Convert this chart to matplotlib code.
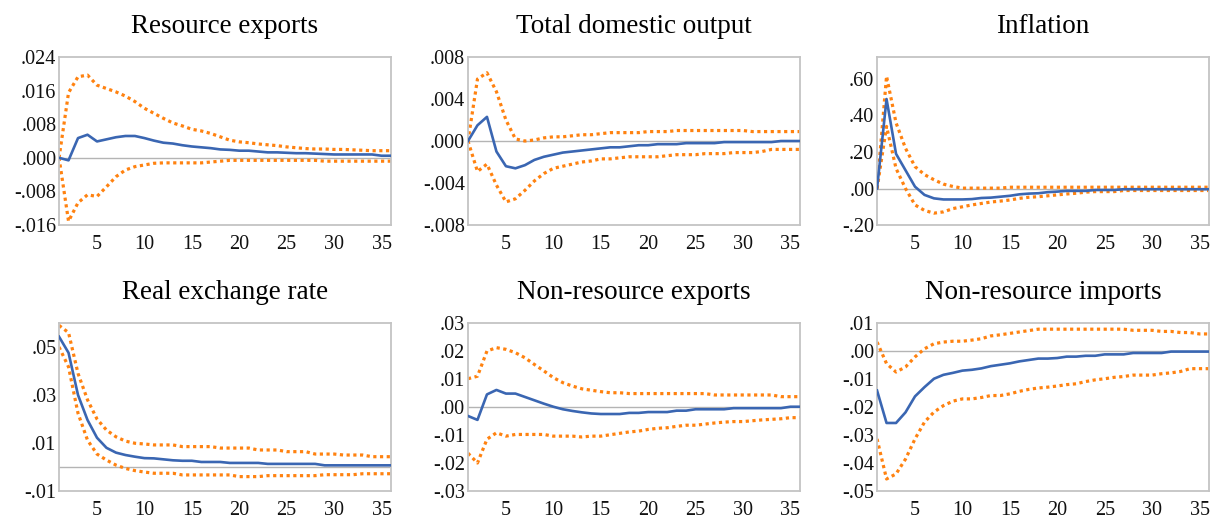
import numpy as np
import matplotlib
matplotlib.use("Agg")
import matplotlib.pyplot as plt
from matplotlib.ticker import FuncFormatter

plt.rcParams['font.family'] = ['Liberation Serif', 'DejaVu Serif']

periods = np.arange(1, 37)

titles = ["Resource exports", "Total domestic output", "Inflation",
          "Real exchange rate", "Non-resource exports", "Non-resource imports"]

# Resource exports
res_exp = [0.0, -0.0006, 0.0047, 0.0055, 0.0039, 0.0044, 0.0049, 0.0052, 0.0052, 0.0047,
           0.0041, 0.0036, 0.0034, 0.0030, 0.0027, 0.0025, 0.0023, 0.0020, 0.0019, 0.0017,
           0.0017, 0.0015, 0.0013, 0.0013, 0.0012, 0.0011, 0.0011, 0.0010, 0.0009, 0.0008,
           0.0008, 0.0008, 0.0008, 0.0008, 0.0005, 0.0005]
res_exp_hi = [0.0, 0.0155, 0.0193, 0.0197, 0.0173, 0.0165, 0.0157, 0.0147, 0.0134, 0.0118,
              0.0106, 0.0094, 0.0083, 0.0076, 0.0068, 0.0064, 0.0058, 0.0050, 0.0042, 0.0038,
              0.0036, 0.0033, 0.0031, 0.0029, 0.0026, 0.0024, 0.0022, 0.0021, 0.0021, 0.0020,
              0.0020, 0.0019, 0.0018, 0.0017, 0.0017, 0.0017]
res_exp_lo = [0.0, -0.0151, -0.0107, -0.0088, -0.0092, -0.0069, -0.0045, -0.0029, -0.0021, -0.0017,
              -0.0013, -0.0012, -0.0012, -0.0012, -0.0012, -0.0012, -0.0010, -0.0008, -0.0006, -0.0006,
              -0.0006, -0.0006, -0.0006, -0.0006, -0.0006, -0.0006, -0.0006, -0.0006, -0.0008, -0.0008,
              -0.0008, -0.0008, -0.0008, -0.0008, -0.0008, -0.0008]

# Total domestic output
gdp = [0.0, 0.0015, 0.0023, -0.0010, -0.0024, -0.0026, -0.0023, -0.0018, -0.0015, -0.0013,
       -0.0011, -0.0010, -0.0009, -0.0008, -0.0007, -0.0006, -0.0006, -0.0005, -0.0004, -0.0004,
       -0.0003, -0.0003, -0.0003, -0.0002, -0.0002, -0.0002, -0.0002, -0.0001, -0.0001, -0.0001,
       -0.0001, -0.0001, -0.0001, 0.0, 0.0, 0.0]
gdp_hi = [0.0, 0.0059, 0.0065, 0.0047, 0.0020, 0.0002, 0.0, 0.0001, 0.0003, 0.0004,
          0.0004, 0.0005, 0.0006, 0.0006, 0.0007, 0.0008, 0.0008, 0.0008, 0.0008, 0.0009,
          0.0009, 0.0009, 0.0010, 0.0010, 0.0010, 0.0010, 0.0010, 0.0010, 0.0010, 0.0010,
          0.0009, 0.0009, 0.0009, 0.0009, 0.0009, 0.0009]
gdp_lo = [0.0, -0.0029, -0.0022, -0.0042, -0.0058, -0.0055, -0.0047, -0.0038, -0.0031, -0.0026,
          -0.0024, -0.0022, -0.0020, -0.0019, -0.0017, -0.0017, -0.0016, -0.0015, -0.0015, -0.0015,
          -0.0015, -0.0014, -0.0013, -0.0013, -0.0013, -0.0012, -0.0012, -0.0012, -0.0011, -0.0011,
          -0.0011, -0.0010, -0.0008, -0.0008, -0.0008, -0.0008]

# Inflation
infl = [0.0, 0.49, 0.19, 0.10, 0.01, -0.035, -0.054, -0.06, -0.06, -0.06,
        -0.058, -0.052, -0.05, -0.045, -0.04, -0.032, -0.028, -0.026, -0.02, -0.017,
        -0.013, -0.013, -0.013, -0.008, -0.008, -0.008, -0.004, -0.004, -0.004, -0.004,
        -0.004, -0.004, -0.004, -0.004, -0.004, -0.004]
infl_hi = [0.0, 0.615, 0.36, 0.22, 0.12, 0.076, 0.048, 0.024, 0.011, 0.002,
           0.002, 0.002, 0.002, 0.002, 0.007, 0.007, 0.007, 0.007, 0.007, 0.007,
           0.007, 0.007, 0.007, 0.007, 0.007, 0.007, 0.007, 0.007, 0.007, 0.007,
           0.007, 0.007, 0.007, 0.007, 0.007, 0.007]
infl_lo = [0.0, 0.34, 0.11, 0.0, -0.09, -0.12, -0.135, -0.128, -0.11, -0.10,
           -0.09, -0.082, -0.074, -0.069, -0.063, -0.054, -0.048, -0.045, -0.04, -0.035,
           -0.03, -0.026, -0.02, -0.017, -0.017, -0.017, -0.011, -0.011, -0.011, -0.011,
           -0.011, -0.011, -0.011, -0.011, -0.011, -0.011]

# Real exchange rate
rer = [0.0543, 0.0476, 0.030, 0.0196, 0.0122, 0.008, 0.006, 0.005, 0.0043, 0.0037,
       0.0036, 0.0032, 0.0028, 0.0026, 0.0026, 0.0021, 0.0021, 0.0021, 0.0017, 0.0017,
       0.0017, 0.0017, 0.0013, 0.0013, 0.0013, 0.0013, 0.0013, 0.0013, 0.0007, 0.0007,
       0.0007, 0.0007, 0.0007, 0.0007, 0.0007, 0.0007]
rer_hi = [0.059, 0.056, 0.039, 0.028, 0.020, 0.0154, 0.0126, 0.0108, 0.0099, 0.0096,
          0.0092, 0.0092, 0.0092, 0.0085, 0.0085, 0.0085, 0.0085, 0.0079, 0.0079, 0.0079,
          0.0079, 0.0071, 0.0071, 0.0071, 0.0064, 0.0064, 0.0064, 0.0054, 0.0054, 0.0054,
          0.0050, 0.0050, 0.0050, 0.0043, 0.0043, 0.0043]
rer_lo = [0.050, 0.0417, 0.0224, 0.0112, 0.0054, 0.0029, 0.0008, -0.0006, -0.0015, -0.0021,
          -0.0026, -0.0026, -0.0026, -0.0033, -0.0033, -0.0033, -0.0033, -0.0033, -0.0033, -0.0040,
          -0.0040, -0.0040, -0.0036, -0.0036, -0.0036, -0.0036, -0.0036, -0.0036, -0.0032, -0.0032,
          -0.0032, -0.0032, -0.0028, -0.0028, -0.0028, -0.0028]

# Non-resource exports
nrx = [-0.0032, -0.0046, 0.0045, 0.0061, 0.0048, 0.0048, 0.0036, 0.0024, 0.0012, 0.0001,
       -0.0008, -0.0014, -0.0019, -0.0023, -0.0025, -0.0025, -0.0025, -0.0021, -0.0021, -0.0018,
       -0.0018, -0.0018, -0.0013, -0.0013, -0.0008, -0.0008, -0.0008, -0.0008, -0.0004, -0.0004,
       -0.0004, -0.0004, -0.0004, -0.0004, 0.0001, 0.0001]
nrx_hi = [0.0101, 0.011, 0.020, 0.0212, 0.0206, 0.0194, 0.0176, 0.0152, 0.0129, 0.0105,
          0.0087, 0.0075, 0.0065, 0.0060, 0.0055, 0.0051, 0.0051, 0.0048, 0.0048, 0.0048,
          0.0048, 0.0048, 0.0048, 0.0048, 0.0048, 0.0048, 0.0043, 0.0043, 0.0043, 0.0043,
          0.0043, 0.0043, 0.0043, 0.0037, 0.0037, 0.0037]
nrx_lo = [-0.0165, -0.020, -0.0115, -0.0092, -0.0104, -0.0098, -0.0098, -0.0098, -0.0098, -0.0104,
          -0.0104, -0.0104, -0.0107, -0.0104, -0.0104, -0.0099, -0.0094, -0.0089, -0.0086, -0.0080,
          -0.0076, -0.0074, -0.0069, -0.0065, -0.0065, -0.0061, -0.0057, -0.0054, -0.0052, -0.0052,
          -0.0049, -0.0046, -0.0044, -0.0042, -0.0038, -0.0038]

# Non-resource imports
nrm = [-0.0141, -0.0257, -0.0257, -0.0219, -0.0162, -0.0129, -0.0099, -0.0085, -0.0078, -0.0070,
       -0.0067, -0.0062, -0.0054, -0.0049, -0.0044, -0.0037, -0.0032, -0.0027, -0.0027, -0.0025,
       -0.0020, -0.0020, -0.0017, -0.0017, -0.0012, -0.0012, -0.0012, -0.0007, -0.0007, -0.0007,
       -0.0007, -0.0002, -0.0002, -0.0002, -0.0002, -0.0002]
nrm_hi = [0.0032, -0.0045, -0.0075, -0.0057, -0.0021, 0.0008, 0.0026, 0.0032, 0.0035, 0.0035,
          0.0039, 0.0044, 0.0054, 0.0058, 0.0063, 0.0068, 0.0073, 0.0078, 0.0078, 0.0078,
          0.0078, 0.0078, 0.0078, 0.0078, 0.0078, 0.0078, 0.0078, 0.0074, 0.0074, 0.0074,
          0.0070, 0.0070, 0.0066, 0.0066, 0.0061, 0.0061]
nrm_lo = [-0.0314, -0.0457, -0.0439, -0.0386, -0.0314, -0.0254, -0.0218, -0.0195, -0.0179, -0.0171,
          -0.0171, -0.0166, -0.0159, -0.0159, -0.0153, -0.0144, -0.0137, -0.0132, -0.0129, -0.0125,
          -0.0120, -0.0117, -0.0109, -0.0103, -0.0099, -0.0094, -0.0091, -0.0086, -0.0086, -0.0086,
          -0.0081, -0.0078, -0.0073, -0.0063, -0.0063, -0.0063]

series = [(res_exp, res_exp_hi, res_exp_lo), (gdp, gdp_hi, gdp_lo), (infl, infl_hi, infl_lo),
          (rer, rer_hi, rer_lo), (nrx, nrx_hi, nrx_lo), (nrm, nrm_hi, nrm_lo)]

y_limits = [(-0.016, 0.024), (-0.008, 0.008), (-0.2, 0.72),
            (-0.01, 0.06), (-0.03, 0.03), (-0.05, 0.01)]
y_ticks = [np.arange(-0.016, 0.0241, 0.008), np.arange(-0.008, 0.0081, 0.004),
           np.arange(-0.2, 0.61, 0.2), np.arange(-0.01, 0.051, 0.02),
           np.arange(-0.03, 0.031, 0.01), np.arange(-0.05, 0.011, 0.01)]
y_decimals = [3, 3, 2, 2, 2, 2]
x_ticks = [5, 10, 15, 20, 25, 30, 35]

blue = '#3a66b2'
orange = '#ff8210'
grey = '#c4c4c4'


def make_fmt(nd):
    def f(v, pos):
        s = f"{abs(v):.{nd}f}".lstrip('0')
        if round(v, nd) < 0:
            s = '-' + s
        return s
    return FuncFormatter(f)


fig = plt.figure(figsize=(12.2, 5.18), dpi=100)
lefts = [0.0484, 0.3836, 0.7189]
bottoms = [0.5656, 0.0521]
w, h = 0.2721, 0.3243

for i, (mid, hi, lo) in enumerate(series):
    ax = fig.add_axes([lefts[i % 3], bottoms[i // 3], w, h])
    ax.axhline(0, color='#b4b4b4', lw=1.0, zorder=1)
    ax.plot(periods, hi, color=orange, lw=2.3, linestyle=(0, (1, 1.1)), zorder=2)
    ax.plot(periods, lo, color=orange, lw=2.3, linestyle=(0, (1, 1.1)), zorder=2)
    ax.plot(periods, mid, color=blue, lw=1.9, zorder=3)
    ax.set_xlim(1, 36)
    ax.set_ylim(*y_limits[i])
    ax.set_xticks(x_ticks)
    ax.set_yticks(y_ticks[i])
    ax.yaxis.set_major_formatter(make_fmt(y_decimals[i]))
    ax.tick_params(length=0, labelsize=14.5, colors='#111111')
    ax.tick_params(axis='x', pad=7)
    ax.tick_params(axis='y', pad=2)
    for sp in ax.spines.values():
        sp.set_color(grey)
        sp.set_linewidth(1.3)
    ax.set_title(titles[i], fontsize=19.5, pad=17)

fig.savefig('out.png', dpi=100)
